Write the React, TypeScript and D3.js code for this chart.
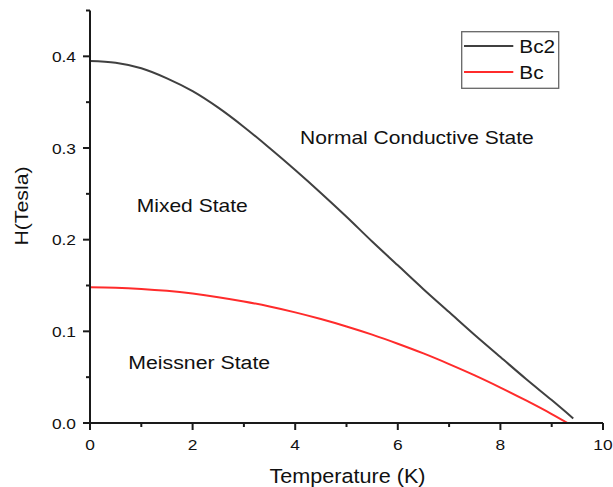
import React from "react";
import * as d3 from "d3";

// Temperature samples (K) and critical fields (Tesla)
const bc2Temps = [0, 0.5, 1, 1.5, 2, 2.5, 3, 3.5, 4, 4.5, 5, 5.5, 6, 6.5, 7, 7.5, 8, 8.5, 9, 9.42];
const bc2Values = [
  0.395, 0.393, 0.387, 0.376, 0.362, 0.344, 0.323, 0.3, 0.276, 0.251, 0.225, 0.198, 0.172, 0.146, 0.121,
  0.096, 0.072, 0.048, 0.025, 0.005,
];

const bcTemps = [0, 0.5, 1, 1.5, 2, 2.5, 3, 3.5, 4, 4.5, 5, 5.5, 6, 6.5, 7, 7.5, 8, 8.5, 9, 9.31];
const bcValues = [
  0.148, 0.1476, 0.1463, 0.1442, 0.1412, 0.1373, 0.1326, 0.1271, 0.1207, 0.1134, 0.1053, 0.0964, 0.0865,
  0.0759, 0.0643, 0.052, 0.0387, 0.0246, 0.0098, 0.0,
];

const xTicks = [0, 2, 4, 6, 8, 10];
const xMinorTicks = [1, 3, 5, 7, 9];
const yTicks = [0, 0.1, 0.2, 0.3, 0.4];
const yMinorTicks = [0.05, 0.15, 0.25, 0.35, 0.45];

const seriesNames = ["Bc2", "Bc"];
const regionLabels = ["Normal Conductive State", "Mixed State", "Meissner State"];

const W = 613;
const H = 487;
const FONT = "'Liberation Sans', Arial, sans-serif";
const STRETCH = 1.12;

type TProps = {
  x: number;
  y: number;
  size: number;
  anchor?: "start" | "middle" | "end";
  rotate?: number;
  children: React.ReactNode;
};

// Text drawn slightly widened horizontally
function WideText({ x, y, size, anchor = "start", rotate = 0, children }: TProps) {
  return (
    <text
      transform={`translate(${x},${y}) rotate(${rotate}) scale(${STRETCH},1)`}
      textAnchor={anchor}
      fontSize={size}
      fill="#111"
    >
      {children}
    </text>
  );
}

export default function App() {
  const x = d3.scaleLinear().domain([0, 10]).range([90, 603]);
  const y = d3.scaleLinear().domain([0, 0.45]).range([423, 10.5]);

  const line = d3
    .line<[number, number]>()
    .x((d) => x(d[0]))
    .y((d) => y(d[1]))
    .curve(d3.curveCatmullRom.alpha(0.5));

  const bc2Path = line(bc2Temps.map((t, i) => [t, bc2Values[i]] as [number, number])) || "";
  const bcPath = line(bcTemps.map((t, i) => [t, bcValues[i]] as [number, number])) || "";

  const axisColor = "#1a1a1a";

  return (
    <svg
      width={W}
      height={H}
      style={{ position: "absolute", left: 0, top: 0, background: "#fff" }}
      fontFamily={FONT}
    >
      <rect x={0} y={0} width={W} height={H} fill="#fff" />

      {/* curves */}
      <path d={bc2Path} fill="none" stroke="#404040" strokeWidth={2} />
      <path d={bcPath} fill="none" stroke="#ff2b2b" strokeWidth={2} />

      {/* y axis */}
      <line x1={x(0)} x2={x(0)} y1={y(0.45)} y2={y(0) + 7} stroke={axisColor} strokeWidth={2} />
      {yTicks.map((t) => (
        <g key={"yt" + t}>
          <line x1={x(0) - 7} x2={x(0)} y1={y(t)} y2={y(t)} stroke={axisColor} strokeWidth={2} />
          <WideText x={76} y={y(t) + 5.5} size={15.5} anchor="end">
            {t.toFixed(1)}
          </WideText>
        </g>
      ))}
      {yMinorTicks.map((t) => (
        <line key={"ym" + t} x1={x(0) - 4} x2={x(0)} y1={y(t)} y2={y(t)} stroke={axisColor} strokeWidth={2} />
      ))}

      {/* x axis */}
      <line x1={x(0) - 7} x2={x(10)} y1={y(0)} y2={y(0)} stroke={axisColor} strokeWidth={2} />
      {xTicks.map((t) => (
        <g key={"xt" + t}>
          <line x1={x(t)} x2={x(t)} y1={y(0)} y2={y(0) + 7} stroke={axisColor} strokeWidth={2} />
          <WideText x={x(t)} y={450} size={15.5} anchor="middle">
            {t}
          </WideText>
        </g>
      ))}
      {xMinorTicks.map((t) => (
        <line key={"xm" + t} x1={x(t)} x2={x(t)} y1={y(0)} y2={y(0) + 4} stroke={axisColor} strokeWidth={2} />
      ))}

      {/* axis titles */}
      <WideText x={347.5} y={483.3} size={19.3} anchor="middle">
        Temperature (K)
      </WideText>
      <WideText x={28} y={206} size={19} anchor="middle" rotate={-90}>
        H(Tesla)
      </WideText>

      {/* region labels */}
      <WideText x={300} y={144} size={18.8}>
        {regionLabels[0]}
      </WideText>
      <WideText x={136.7} y={211.7} size={18.8}>
        {regionLabels[1]}
      </WideText>
      <WideText x={128.3} y={369} size={19}>
        {regionLabels[2]}
      </WideText>

      {/* legend */}
      <rect x={461.7} y={31.7} width={97} height={56.6} fill="#fff" stroke="#666" strokeWidth={1.3} />
      <line x1={464} x2={513.3} y1={46} y2={46} stroke="#404040" strokeWidth={2} />
      <line x1={464} x2={513.3} y1={72} y2={72} stroke="#ff2b2b" strokeWidth={2} />
      <WideText x={519.3} y={53.3} size={18.6}>
        {seriesNames[0]}
      </WideText>
      <WideText x={519.3} y={79.3} size={18.6}>
        {seriesNames[1]}
      </WideText>
    </svg>
  );
}
